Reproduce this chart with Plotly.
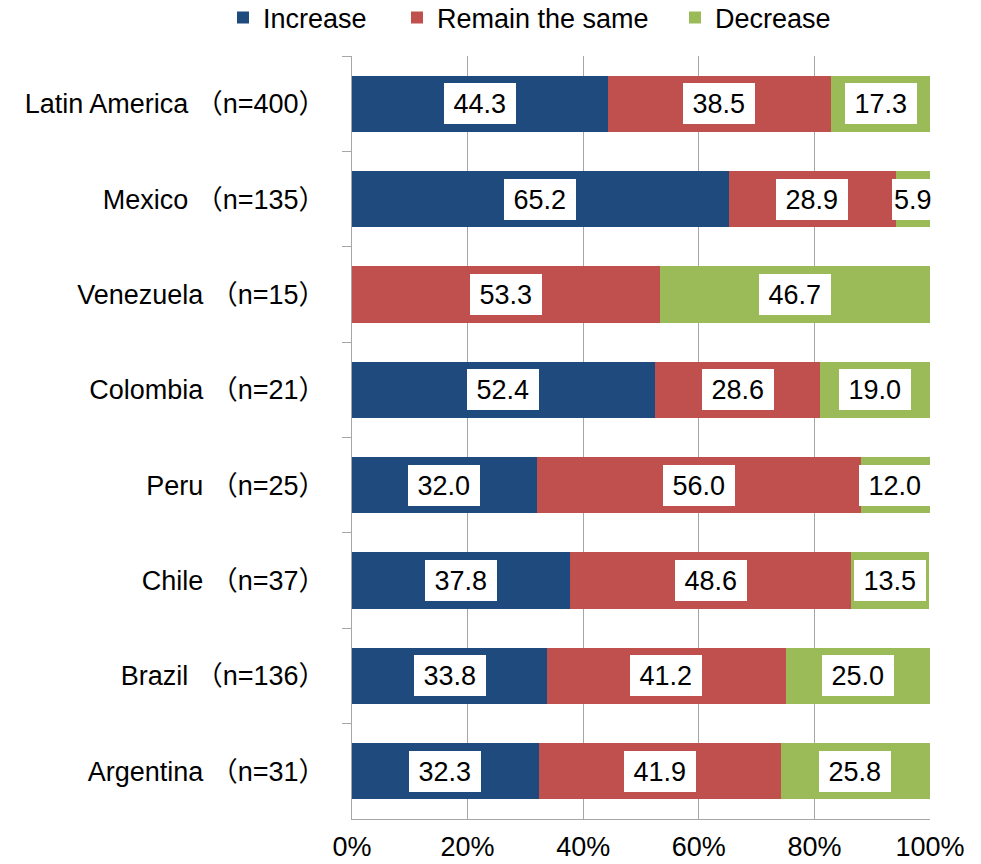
import plotly.graph_objects as go

# Survey results: share of respondents by expected change (%)
categories = [
    "Latin America （n=400）",
    "Mexico （n=135）",
    "Venezuela （n=15）",
    "Colombia （n=21）",
    "Peru （n=25）",
    "Chile （n=37）",
    "Brazil （n=136）",
    "Argentina （n=31）",
]
increase = [44.3, 65.2, 0.0, 52.4, 32.0, 37.8, 33.8, 32.3]
remain_same = [38.5, 28.9, 53.3, 28.6, 56.0, 48.6, 41.2, 41.9]
decrease = [17.3, 5.9, 46.7, 19.0, 12.0, 13.5, 25.0, 25.8]
x_tick_values = [0, 20, 40, 60, 80, 100]
x_tick_labels = ["0%", "20%", "40%", "60%", "80%", "100%"]

FONT = "Liberation Sans, Arial, Noto Sans CJK JP, sans-serif"
FONT_SIZE = 27

series = [
    ("Increase", increase, "#1F4A7E", "legend"),
    ("Remain the same", remain_same, "#C0504D", "legend2"),
    ("Decrease", decrease, "#9BBB59", "legend3"),
]

fig = go.Figure()
for name, values, color, legend_id in series:
    fig.add_trace(go.Bar(
        y=categories,
        x=values,
        name=name,
        orientation="h",
        marker=dict(color=color, line=dict(width=0)),
        legend=legend_id,
        showlegend=True,
        hoverinfo="x+y+name",
    ))

# White value boxes centred on each segment
annotations = []
for i, cat in enumerate(categories):
    left = 0.0
    for name, values, color, legend_id in series:
        v = values[i]
        if v > 0:
            pad = "\u00a0" if v > 8 else ""
            annotations.append(dict(
                x=left + v / 2, y=cat, xref="x", yref="y",
                text=f"{pad}{v:.1f}{pad}",
                showarrow=False,
                font=dict(family=FONT, size=FONT_SIZE, color="#000000"),
                bgcolor="#FFFFFF",
                borderpad=2, borderwidth=0,
                height=37,
                xanchor="center", yanchor="middle",
            ))
        left += v

legend_common = dict(
    orientation="h",
    xref="container", yref="container",
    y=1 - 18 / 864, yanchor="middle",
    xanchor="left",
    font=dict(family=FONT, size=FONT_SIZE, color="#000000"),
    bgcolor="rgba(0,0,0,0)",
    borderwidth=0,
    itemwidth=30,
)

fig.update_layout(
    width=981, height=864,
    margin=dict(l=352, r=51, t=56, b=45, autoexpand=False),
    barmode="stack",
    bargap=0.41,
    showlegend=True,
    plot_bgcolor="#FFFFFF",
    paper_bgcolor="#FFFFFF",
    font=dict(family=FONT, size=FONT_SIZE, color="#000000"),
    annotations=annotations,
    legend=dict(legend_common, x=(263 - 40) / 981),
    legend2=dict(legend_common, x=(437 - 40) / 981),
    legend3=dict(legend_common, x=(715 - 40) / 981),
    xaxis=dict(
        range=[0, 100],
        tickvals=x_tick_values,
        ticktext=x_tick_labels,
        showgrid=True, gridcolor="#A6A6A6", gridwidth=1,
        showline=True, linecolor="#A6A6A6", linewidth=1,
        ticks="",
        ticklabelstandoff=4,
        zeroline=False,
        automargin=False,
        fixedrange=True,
    ),
    yaxis=dict(
        autorange="reversed",
        showline=True, linecolor="#A6A6A6", linewidth=1,
        ticks="outside", ticklen=9, tickcolor="#A6A6A6",
        tickson="boundaries",
        ticklabelstandoff=20,
        showgrid=False,
        automargin=False,
        fixedrange=True,
    ),
)

fig.write_html("out.html")
